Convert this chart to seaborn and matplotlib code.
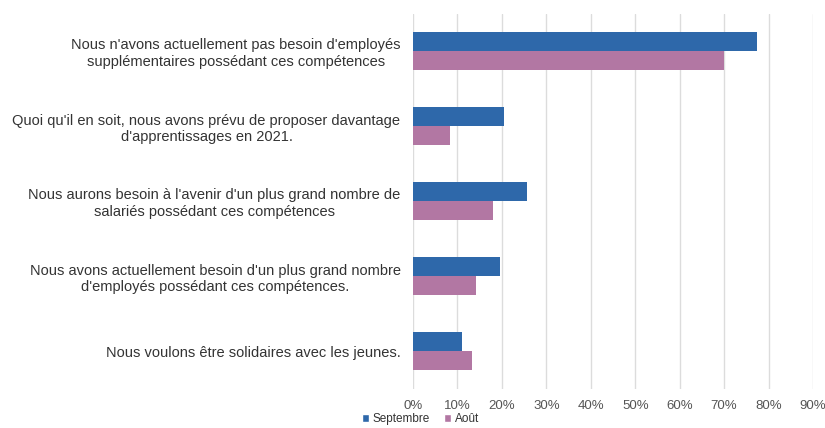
import matplotlib
matplotlib.use("Agg")
import matplotlib.pyplot as plt
import seaborn as sns
import pandas as pd
from matplotlib.ticker import PercentFormatter, MultipleLocator
from matplotlib.patches import Patch

categories = [
    "Nous n'avons actuellement pas besoin d'employés\nsupplémentaires possédant ces compétences",
    "Quoi qu'il en soit, nous avons prévu de proposer davantage\nd'apprentissages en 2021.",
    "Nous aurons besoin à l'avenir d'un plus grand nombre de\nsalariés possédant ces compétences",
    "Nous avons actuellement besoin d'un plus grand nombre\nd'employés possédant ces compétences.",
    "Nous voulons être solidaires avec les jeunes.",
]
series = ["Septembre", "Août"]
septembre = [77.5, 20.4, 25.6, 19.6, 11.0]
aout = [70.0, 8.3, 18.0, 14.2, 13.2]
colors = ["#2e68aa", "#b277a3"]

df = pd.DataFrame({
    "cat": categories * 2,
    "serie": [series[0]] * len(categories) + [series[1]] * len(categories),
    "val": septembre + aout,
})

sns.set_theme(style="white")
plt.rcParams["font.family"] = ["Liberation Sans", "DejaVu Sans"]

fig = plt.figure(figsize=(8.25, 4.28), dpi=100)
ax = fig.add_axes([413 / 825, 1 - 388.5 / 428, 400 / 825, 375 / 428])

sns.barplot(data=df, y="cat", x="val", hue="serie", palette=colors,
            orient="h", width=0.5, ax=ax, legend=False, saturation=1,
            linewidth=0, zorder=2)

ax.set_xlim(0, 90)
ax.xaxis.set_major_locator(MultipleLocator(10))
ax.xaxis.set_major_formatter(PercentFormatter(decimals=0))
ax.grid(axis="x", color="#dcdcdc", linewidth=1, zorder=0)
ax.set_axisbelow(True)
for s in ax.spines.values():
    s.set_visible(False)
ax.set_xlabel("")
ax.set_ylabel("")
ax.tick_params(axis="x", labelsize=9.5, colors="#555555", length=0, pad=8)
ax.tick_params(axis="y", labelsize=10.5, colors="#333333", length=0, pad=9)
for lbl in ax.get_yticklabels():
    lbl.set_multialignment("center")

handles = [Patch(facecolor=c, label=s) for c, s in zip(colors, series)]
fig.legend(handles=handles, loc="lower center", bbox_to_anchor=(0.51, -0.018),
           ncol=2, frameon=False, fontsize=8.5, handlelength=0.6,
           handleheight=0.6, handletextpad=0.3, columnspacing=1.2,
           labelcolor="#333333")

fig.savefig("out.png", dpi=100)
